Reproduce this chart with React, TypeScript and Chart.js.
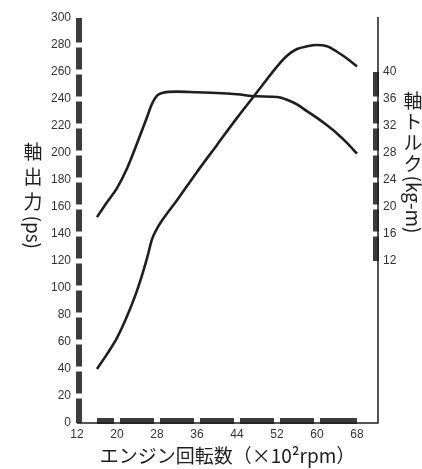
import React, { useEffect, useRef } from 'react';
import { Chart, registerables } from 'chart.js';

Chart.register(...registerables);

// ---- data ----
const rpmPoints = [16, 18, 20, 22, 24, 26, 27, 28, 29, 32, 36, 40, 44, 48, 52, 54, 56, 58, 60, 62, 64, 66, 68];
const powerPs = [40, 51, 63, 79, 98, 122, 136, 144, 150, 165, 186, 206, 226, 245, 264, 272, 277, 279, 280, 279, 275, 270, 264];
const torqueKgm = [18.5, 20.7, 22.8, 25.7, 29.4, 33.3, 35.3, 36.5, 36.9, 37.1, 37.0, 36.9, 36.7, 36.4, 36.3, 35.9, 35.2, 34.2, 33.2, 32.1, 30.9, 29.5, 27.9];

const xTicks = [12, 20, 28, 36, 44, 52, 60, 68];
const xBandTicks = [16, 20, 28, 36, 44, 52, 60, 68];
const psTicks = [0, 20, 40, 60, 80, 100, 120, 140, 160, 180, 200, 220, 240, 260, 280, 300];
const torqueTicks = [12, 16, 20, 24, 28, 32, 36, 40];

const xTitle = 'エンジン回転数（×10²rpm）';
const leftTitleCjk = ['軸', '出', '力'];
const leftTitleLatin = '(ps)';
const rightTitleCjk = ['軸', 'ト', 'ル', 'ク'];
const rightTitleLatin = '(kg-m)';

const INK = '#1e1e1e';
const BAND = '#3c3c3c';
const LABEL = '#333333';
const CJK_FONT = "'Noto Sans CJK JP', 'Noto Sans', sans-serif";
const TICK_FONT = "'Liberation Sans', Arial, sans-serif";

const axisBandsPlugin = {
  id: 'axisBands',
  beforeDatasetsDraw(chart: any) {
    const { ctx, chartArea: ca, scales } = chart;
    const xs = scales.x;
    const yl = scales.y;
    const yr = scales.y2;
    const t = 6;
    ctx.save();
    ctx.fillStyle = BAND;
    // left bands
    const gL = 5;
    for (let i = 0; i < psTicks.length - 1; i++) {
      const a = yl.getPixelForValue(psTicks[i]);
      const b = yl.getPixelForValue(psTicks[i + 1]);
      const bottom = i === 0 ? a : a - gL / 2;
      const top = i === psTicks.length - 2 ? b : b + gL / 2;
      ctx.fillRect(ca.left - 1, top, t, bottom - top);
    }
    // bottom bands
    const gX = 6;
    for (let i = 0; i < xBandTicks.length - 1; i++) {
      const a = xs.getPixelForValue(xBandTicks[i]);
      const b = xs.getPixelForValue(xBandTicks[i + 1]);
      const l = i === 0 ? a : a + gX / 2;
      const r = i === xBandTicks.length - 2 ? b : b - gX / 2;
      ctx.fillRect(l, ca.bottom - 5, r - l, t);
    }
    // right bands
    const gR = 5;
    for (let i = 0; i < torqueTicks.length - 1; i++) {
      const a = yr.getPixelForValue(torqueTicks[i]);
      const b = yr.getPixelForValue(torqueTicks[i + 1]);
      const bottom = i === 0 ? a : a - gR / 2;
      const top = i === torqueTicks.length - 2 ? b : b + gR / 2;
      ctx.fillRect(ca.right - 5, top, t, bottom - top);
    }
    // thin frame lines
    ctx.strokeStyle = INK;
    ctx.lineWidth = 1.5;
    ctx.beginPath();
    ctx.moveTo(ca.left, ca.bottom);
    ctx.lineTo(ca.right, ca.bottom);
    ctx.lineTo(ca.right, ca.top - 1);
    ctx.stroke();
    ctx.restore();
  },
};

function drawVerticalTitle(ctx: CanvasRenderingContext2D, cx: number, firstCy: number, pitch: number, cjk: string[], latin: string) {
  ctx.save();
  ctx.fillStyle = INK;
  ctx.font = `19px ${CJK_FONT}`;
  ctx.textAlign = 'center';
  ctx.textBaseline = 'middle';
  cjk.forEach((ch, i) => ctx.fillText(ch, cx, firstCy + i * pitch));
  const startY = firstCy + (cjk.length - 1) * pitch + pitch / 2 + 1;
  ctx.translate(cx, startY);
  ctx.rotate(Math.PI / 2);
  ctx.textAlign = 'left';
  ctx.fillText(latin, 0, 0);
  ctx.restore();
}

const verticalTitlesPlugin = {
  id: 'verticalTitles',
  afterDraw(chart: any) {
    const { ctx, scales } = chart;
    drawVerticalTitle(ctx, scales.y.left + 33, 152, 25, leftTitleCjk, leftTitleLatin);
    drawVerticalTitle(ctx, scales.y2.left + 35, 101, 21, rightTitleCjk, rightTitleLatin);
  },
};

export default function App() {
  const canvasRef = useRef<HTMLCanvasElement | null>(null);

  useEffect(() => {
    const canvas = canvasRef.current;
    if (!canvas) return;
    const chart = new Chart(canvas, {
      type: 'line',
      data: {
        datasets: [
          {
            label: '軸出力',
            data: rpmPoints.map((x, i) => ({ x, y: powerPs[i] })),
            yAxisID: 'y',
            borderColor: INK,
            borderWidth: 2.6,
            pointRadius: 0,
            cubicInterpolationMode: 'monotone',
            fill: false,
          },
          {
            label: '軸トルク',
            data: rpmPoints.map((x, i) => ({ x, y: torqueKgm[i] })),
            yAxisID: 'y2',
            borderColor: INK,
            borderWidth: 2.6,
            pointRadius: 0,
            cubicInterpolationMode: 'monotone',
            fill: false,
          },
        ],
      },
      options: {
        animation: false,
        responsive: false,
        layout: { padding: { top: 18, left: 0, right: 0, bottom: 0 } },
        plugins: { legend: { display: false }, tooltip: { enabled: false } },
        scales: {
          x: {
            type: 'linear',
            position: 'bottom',
            min: 12,
            max: 72.2,
            grid: { display: false, drawTicks: false },
            border: { display: false },
            afterBuildTicks: (s: any) => {
              s.ticks = xTicks.map((v) => ({ value: v }));
            },
            afterFit: (s: any) => {
              s.height = 46;
            },
            ticks: {
              autoSkip: false,
              maxRotation: 0,
              padding: 4,
              color: LABEL,
              font: { family: TICK_FONT, size: 12 },
            },
            title: {
              display: true,
              text: xTitle,
              color: INK,
              font: { family: CJK_FONT, size: 19 },
              padding: { top: 0, bottom: 2 },
            },
          },
          y: {
            type: 'linear',
            position: 'left',
            min: 0,
            max: 300,
            grid: { display: false, drawTicks: false },
            border: { display: false },
            afterBuildTicks: (s: any) => {
              s.ticks = psTicks.map((v) => ({ value: v }));
            },
            afterFit: (s: any) => {
              s.width = 77;
            },
            ticks: {
              autoSkip: false,
              padding: 6,
              color: LABEL,
              font: { family: TICK_FONT, size: 12 },
            },
          },
          y2: {
            type: 'linear',
            position: 'right',
            min: -12,
            max: 48,
            grid: { display: false, drawTicks: false },
            border: { display: false },
            afterBuildTicks: (s: any) => {
              s.ticks = torqueTicks.map((v) => ({ value: v }));
            },
            afterFit: (s: any) => {
              s.width = 44;
            },
            ticks: {
              autoSkip: false,
              padding: 5,
              color: LABEL,
              font: { family: TICK_FONT, size: 12 },
            },
          },
        },
      },
      plugins: [axisBandsPlugin, verticalTitlesPlugin],
    } as any);
    return () => chart.destroy();
  }, []);

  return (
    <div style={{ position: 'absolute', left: 0, top: 0, width: 422, height: 469, background: '#fff' }}>
      <canvas ref={canvasRef} width={422} height={469} style={{ display: 'block' }} />
    </div>
  );
}
